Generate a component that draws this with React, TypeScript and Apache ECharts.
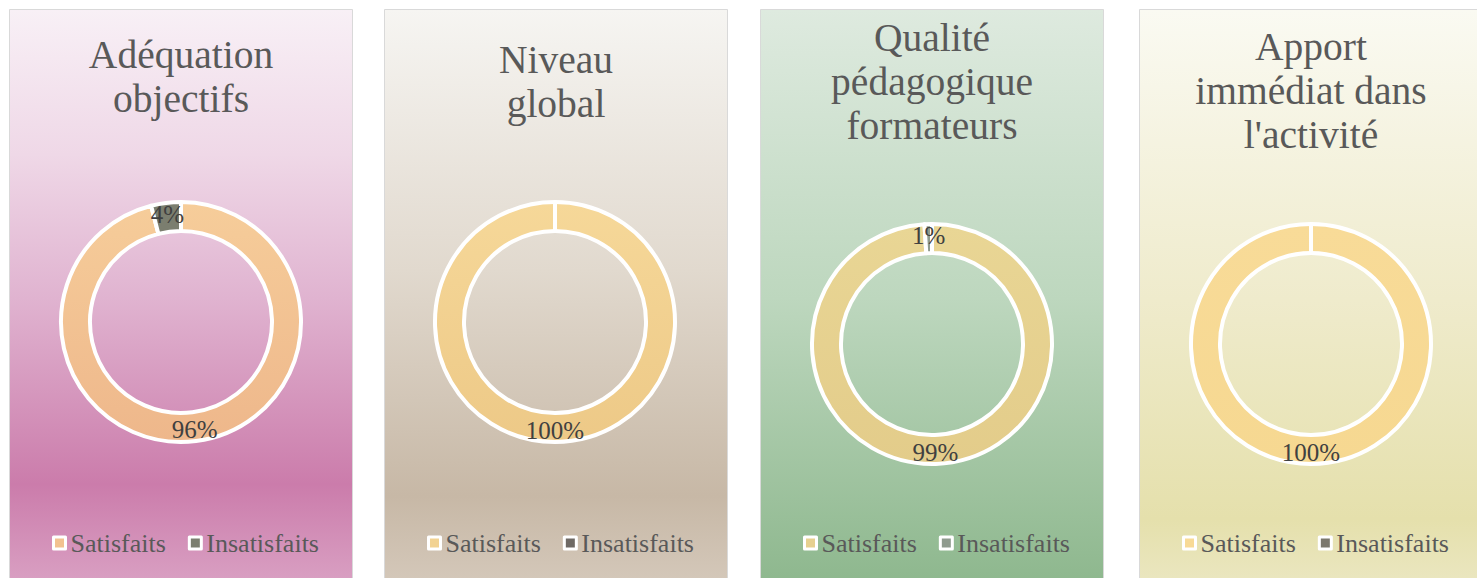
import React, { useEffect, useRef } from "react";
import * as echarts from "echarts";

// ---- data ----
const titles = [
  "Adéquation\nobjectifs",
  "Niveau\nglobal",
  "Qualité\npédagogique\nformateurs",
  "Apport\nimmédiat dans\nl'activité",
];
const categories = ["Satisfaits", "Insatisfaits"];
const satisfaits = [96, 100, 99, 100];
const insatisfaits = [4, 0, 1, 0];

// ---- layout / style ----
const PANEL_LEFT = [9, 384, 760, 1139];
const PANEL_TOP = 9;
const PANEL_W = 344;
const PANEL_H = 569;
const TITLE_TOP = [19, 24, 2, 11];
const RING_CENTER = [
  [172, 313],
  [171, 313],
  [172, 335],
  [172, 335],
];
const BG_STOPS = [
  [
    [0, "#f8f0f6"],
    [0.25, "#efd8e7"],
    [0.5, "#e0b3d0"],
    [0.82, "#cb7cab"],
    [1, "#daa2c4"],
  ],
  [
    [0, "#f6f5f2"],
    [0.45, "#e1d9ce"],
    [0.84, "#c7b8a6"],
    [1, "#d5c9bb"],
  ],
  [
    [0, "#deeadf"],
    [0.5, "#bdd7be"],
    [1, "#8db78d"],
  ],
  [
    [0, "#fafaf2"],
    [0.5, "#efebcc"],
    [0.88, "#e5e0ac"],
    [1, "#ebe7c2"],
  ],
];
const SAT_TOP = ["#f6cd9a", "#f6d899", "#e9d695", "#f8db98"];
const SAT_BOTTOM = ["#eeb78b", "#edc987", "#e3cc8a", "#f6d891"];
const SAT_LEGEND = ["#f2c290", "#f2d291", "#e6d08f", "#f8da96"];
const INSAT = ["#7b7e6f", "#6e6964", "#8f9b8e", "#7b786d"];

const FONT = "'Liberation Serif', 'Times New Roman', serif";
const TEXT = "#595959";

function Panel({ index }: { index: number }) {
  const ref = useRef<HTMLDivElement>(null);
  useEffect(() => {
    if (!ref.current) return;
    const chart = echarts.init(ref.current, null, { renderer: "svg" });
    const stops = BG_STOPS[index].map(([o, c]) => ({ offset: o as number, color: c as string }));
    chart.setOption({
      animation: false,
      graphic: [
        {
          type: "rect",
          z: -10,
          silent: true,
          shape: { x: 0.5, y: 0.5, width: PANEL_W - 1, height: PANEL_H + 10 },
          style: {
            fill: new echarts.graphic.LinearGradient(0, 0, 0, 1, stops),
            stroke: "#d9d9d9",
            lineWidth: 1,
          },
        },
      ],
      title: {
        text: titles[index],
        left: "center",
        top: TITLE_TOP[index],
        textStyle: {
          fontFamily: FONT,
          fontSize: 39.5,
          fontWeight: "normal",
          color: TEXT,
          lineHeight: 44,
        },
      },
      legend: {
        top: 521,
        left: 43,
        padding: 0,
        itemWidth: 12,
        itemHeight: 12,
        itemGap: 22,
        icon: "rect",
        textStyle: { fontFamily: FONT, fontSize: 26, color: TEXT },
        data: [
          {
            name: categories[0],
            itemStyle: { color: SAT_LEGEND[index], borderColor: "#ffffff", borderWidth: 3 },
          },
          {
            name: categories[1],
            itemStyle: { color: INSAT[index], borderColor: "#ffffff", borderWidth: 3 },
          },
        ],
      },
      series: [
        {
          type: "pie",
          center: RING_CENTER[index],
          radius: [91, 120],
          startAngle: 90,
          clockwise: true,
          avoidLabelOverlap: false,
          emphasis: { disabled: true },
          itemStyle: { borderColor: "#ffffff", borderWidth: 4 },
          labelLine: { show: false },
          label: {
            show: true,
            position: "inside",
            fontFamily: FONT,
            fontSize: 25,
            color: "#404040",
            formatter: (p: any) => (p.value > 0 ? Math.round(p.percent) + "%" : ""),
          },
          data: [
            {
              name: categories[0],
              value: satisfaits[index],
              itemStyle: {
                color: new echarts.graphic.LinearGradient(0, 0, 0, 1, [
                  { offset: 0, color: SAT_TOP[index] },
                  { offset: 1, color: SAT_BOTTOM[index] },
                ]),
              },
            },
            {
              name: categories[1],
              value: insatisfaits[index],
              itemStyle: { color: INSAT[index] },
            },
          ],
        },
      ],
    });
    return () => chart.dispose();
  }, [index]);
  return (
    <div
      ref={ref}
      style={{
        position: "absolute",
        left: PANEL_LEFT[index],
        top: PANEL_TOP,
        width: PANEL_W,
        height: PANEL_H,
      }}
    />
  );
}

export default function App() {
  return (
    <div
      style={{
        position: "absolute",
        left: 0,
        top: 0,
        width: 1477,
        height: 578,
        overflow: "hidden",
        background: "#ffffff",
      }}
    >
      {titles.map((_, i) => (
        <Panel key={i} index={i} />
      ))}
    </div>
  );
}
